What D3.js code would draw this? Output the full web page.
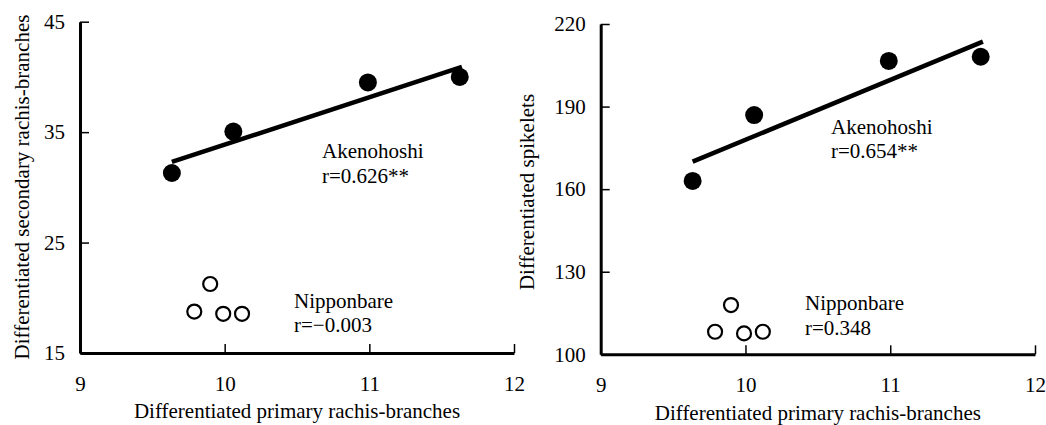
<!DOCTYPE html>
<html>
<head>
<meta charset="utf-8">
<script src="https://cdn.jsdelivr.net/npm/d3@7"></script>
<style>
  body { margin: 0; background: #fff; }
  svg { display: block; }
</style>
</head>
<body>
<svg width="1046" height="425"></svg>
<script>
// tick values
var xTicks = [9, 10, 11, 12];
var secondaryTicks = [15, 25, 35, 45];
var spikeletTicks = [100, 130, 160, 190, 220];

// Akenohoshi (filled) and Nipponbare (open)
var akenoPrimary = [9.635, 10.06, 10.99, 11.625];
var akenoSecondary = [31.3, 35.05, 39.5, 40.0];
var akenoSpikelets = [163.0, 186.9, 206.6, 208.1];

var nipponPrimary = [9.90, 9.79, 9.99, 10.12];
var nipponSecondary = [21.25, 18.75, 18.55, 18.55];
var nipponSpikelets = [117.9, 108.2, 107.6, 108.2];

// regression line end points (Akenohoshi)
var fitPrimary = [9.635, 11.64];
var fitSecondary = [32.3, 40.9];
var fitSpikelets = [170.0, 213.6];

var FONT = "'Liberation Serif', 'Times New Roman', Times, serif";
var FS = "21px";

var svg = d3.select("svg");

function panel(opt) {
    var x = d3.scaleLinear().domain([9, 12]).range([opt.x0, opt.x1]);
    var y = d3.scaleLinear().domain(opt.yDomain).range([opt.y0, opt.y1]);
    var g = svg.append("g");

    // axes
    var xAxis = g.append("g")
        .attr("transform", "translate(0," + opt.y0 + ")")
        .call(d3.axisBottom(x).tickValues(xTicks).tickFormat(d3.format("d"))
            .tickSize(-9).tickSizeOuter(0).tickPadding(23));
    var yAxis = g.append("g")
        .attr("transform", "translate(" + opt.x0 + ",0)")
        .call(d3.axisLeft(y).tickValues(opt.yTicks).tickFormat(d3.format("d"))
            .tickSize(-9).tickSizeOuter(0).tickPadding(15));

    [xAxis, yAxis].forEach(function (a) {
        a.attr("font-family", null).attr("font-size", null);
        a.select(".domain").attr("stroke", "#000").attr("stroke-width", 3);
        a.selectAll(".tick line").attr("stroke", "#000").attr("stroke-width", 1.5);
        a.selectAll(".tick text")
            .style("font-family", FONT)
            .style("font-size", FS)
            .attr("fill", "#000");
    });

    // axis titles
    g.append("text")
        .attr("x", (opt.x0 + opt.x1) / 2)
        .attr("y", opt.xTitleY)
        .attr("text-anchor", "middle")
        .style("font-family", FONT)
        .style("font-size", FS)
        .text("Differentiated primary rachis-branches");
    g.append("text")
        .attr("transform", "translate(" + opt.yTitleX + "," + opt.yTitleY + ") rotate(-90)")
        .attr("text-anchor", "middle")
        .style("font-family", FONT)
        .style("font-size", FS)
        .text(opt.yTitle);

    // regression line
    g.append("line")
        .attr("x1", x(fitPrimary[0])).attr("y1", y(opt.fit[0]))
        .attr("x2", x(fitPrimary[1])).attr("y2", y(opt.fit[1]))
        .attr("stroke", "#000").attr("stroke-width", 4.5);

    // points
    g.selectAll(".akeno")
        .data(akenoPrimary)
        .enter().append("circle")
        .attr("cx", function (d) { return x(d); })
        .attr("cy", function (d, i) { return y(opt.akeno[i]); })
        .attr("r", 9)
        .attr("fill", "#000");
    g.selectAll(".nippon")
        .data(nipponPrimary)
        .enter().append("circle")
        .attr("cx", function (d) { return x(d); })
        .attr("cy", function (d, i) { return y(opt.nippon[i]); })
        .attr("r", 7)
        .attr("fill", "#fff")
        .attr("stroke", "#000")
        .attr("stroke-width", 2.2);

    // labels
    opt.labels.forEach(function (l) {
        g.append("text")
            .attr("x", l.x).attr("y", l.y)
            .style("font-family", FONT)
            .style("font-size", FS)
            .text(l.t);
    });
}

panel({
    x0: 80, x1: 514, y0: 353, y1: 21.7,
    yDomain: [15, 45], yTicks: secondaryTicks,
    akeno: akenoSecondary, nippon: nipponSecondary, fit: fitSecondary,
    xTitleY: 418,
    yTitle: "Differentiated secondary rachis-branches", yTitleX: 29, yTitleY: 187,
    labels: [
        { x: 322, y: 158, t: "Akenohoshi" },
        { x: 322, y: 183, t: "r=0.626**" },
        { x: 294, y: 308, t: "Nipponbare" },
        { x: 294, y: 332, t: "r=\u22120.003" }
    ]
});

panel({
    x0: 600.7, x1: 1035, y0: 354.3, y1: 24,
    yDomain: [100, 220], yTicks: spikeletTicks,
    akeno: akenoSpikelets, nippon: nipponSpikelets, fit: fitSpikelets,
    xTitleY: 420,
    yTitle: "Differentiated spikelets", yTitleX: 534, yTitleY: 192,
    labels: [
        { x: 831, y: 134, t: "Akenohoshi" },
        { x: 831, y: 158, t: "r=0.654**" },
        { x: 805, y: 310, t: "Nipponbare" },
        { x: 805, y: 335, t: "r=0.348" }
    ]
});
</script>
</body>
</html>
